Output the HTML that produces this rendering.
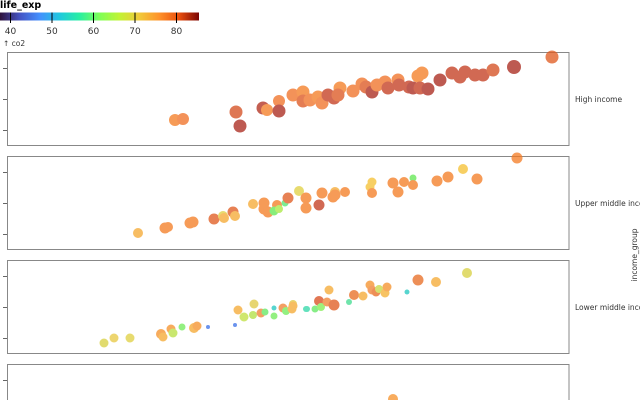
<!DOCTYPE html>
<html><head><meta charset="utf-8">
<style>
html,body{margin:0;padding:0;background:#fff;width:640px;height:400px;overflow:hidden;}
svg{display:block;}
text{font-family:"DejaVu Sans","Liberation Sans",sans-serif;}
</style></head>
<body>
<svg width="640" height="400" viewBox="0 0 640 400" xmlns="http://www.w3.org/2000/svg">
<defs>
<linearGradient id="turbo" x1="0" x2="1" y1="0" y2="0">
<stop offset="0" stop-color="#30123b"/>
<stop offset="0.1" stop-color="#4454c4"/>
<stop offset="0.2" stop-color="#4490fe"/>
<stop offset="0.3" stop-color="#1fc8de"/>
<stop offset="0.4" stop-color="#29efa2"/>
<stop offset="0.5" stop-color="#7dff56"/>
<stop offset="0.6" stop-color="#c1f334"/>
<stop offset="0.7" stop-color="#f1ca3a"/>
<stop offset="0.8" stop-color="#fe922a"/>
<stop offset="0.9" stop-color="#ea4f0d"/>
<stop offset="1" stop-color="#7a0403"/>
</linearGradient>
</defs>
<rect width="640" height="400" fill="#fff"/>
<!-- legend -->
<text x="0" y="8" font-size="9.5" font-weight="bold" fill="#000">life_exp</text>
<rect x="0" y="12.5" width="199" height="8" fill="url(#turbo)"/>
<g stroke="#000" stroke-width="1">
<line x1="10.5" y1="12.5" x2="10.5" y2="23"/>
<line x1="52" y1="12.5" x2="52" y2="23"/>
<line x1="93.5" y1="12.5" x2="93.5" y2="23"/>
<line x1="135" y1="12.5" x2="135" y2="23"/>
<line x1="176.5" y1="12.5" x2="176.5" y2="23"/>
</g>
<g font-size="9" fill="#333" text-anchor="middle">
<text x="10.5" y="34">40</text>
<text x="52" y="34">50</text>
<text x="93.5" y="34">60</text>
<text x="135" y="34">70</text>
<text x="176.5" y="34">80</text>
</g>
<text x="3" y="46" font-size="7.5" fill="#333">↑ co2</text>

<!-- panels -->
<g fill="none" stroke="#888" stroke-width="1">
<rect x="7.5" y="52.5" width="561.5" height="93"/>
<rect x="7.5" y="156.5" width="561.5" height="93"/>
<rect x="7.5" y="260.5" width="561.5" height="93"/>
<path d="M7.5 400 V364.5 H569 V400"/>
</g>
<g stroke="#666" stroke-width="1">
<line x1="3" y1="68.5" x2="7" y2="68.5"/><line x1="3" y1="99.5" x2="7" y2="99.5"/><line x1="3" y1="130.5" x2="7" y2="130.5"/>
<line x1="3" y1="172.5" x2="7" y2="172.5"/><line x1="3" y1="203.5" x2="7" y2="203.5"/><line x1="3" y1="234.5" x2="7" y2="234.5"/>
<line x1="3" y1="276.5" x2="7" y2="276.5"/><line x1="3" y1="307.5" x2="7" y2="307.5"/><line x1="3" y1="338.5" x2="7" y2="338.5"/>
<line x1="3" y1="380.5" x2="7" y2="380.5"/>
</g>
<g font-size="7.5" fill="#333">
<text x="575" y="102">High income</text>
<text x="575" y="206">Upper middle income</text>
<text x="575" y="310">Lower middle income</text>
</g>
<text transform="translate(637,255) rotate(-90)" font-size="7.5" fill="#333" text-anchor="middle">income_group</text>

<!-- panel 1 points -->
<g opacity="0.75">
<circle cx="175" cy="120" r="6" fill="#f47a20"/>
<circle cx="183" cy="119" r="6" fill="#f06e22"/>
<circle cx="236" cy="112" r="6.5" fill="#d34a1c"/>
<circle cx="240" cy="126" r="6.5" fill="#a82418"/>
<circle cx="263" cy="108" r="6.5" fill="#b02a18"/>
<circle cx="267" cy="110" r="6" fill="#f47a20"/>
<circle cx="279" cy="101" r="6" fill="#f06e22"/>
<circle cx="279" cy="111" r="6.5" fill="#a82418"/>
<circle cx="293" cy="95" r="6.5" fill="#f06e22"/>
<circle cx="303" cy="92" r="6.5" fill="#f47a20"/>
<circle cx="303" cy="101" r="6.5" fill="#dc521c"/>
<circle cx="310" cy="100" r="6.5" fill="#f06e22"/>
<circle cx="318" cy="97" r="6.5" fill="#f47a20"/>
<circle cx="322" cy="103" r="6.5" fill="#f06e22"/>
<circle cx="328" cy="95" r="6.5" fill="#c2381a"/>
<circle cx="334" cy="98" r="6.5" fill="#c2381a"/>
<circle cx="340" cy="88" r="6.5" fill="#f47a20"/>
<circle cx="338" cy="95" r="6.5" fill="#dc521c"/>
<circle cx="353" cy="91" r="6.5" fill="#f06e22"/>
<circle cx="362" cy="84" r="6.5" fill="#f06e22"/>
<circle cx="366" cy="87" r="6.5" fill="#dc521c"/>
<circle cx="372" cy="92" r="6.5" fill="#a82418"/>
<circle cx="377" cy="85" r="6.5" fill="#f06e22"/>
<circle cx="385" cy="82" r="6.5" fill="#f06e22"/>
<circle cx="388" cy="88" r="6.5" fill="#c2381a"/>
<circle cx="398" cy="80" r="6.5" fill="#f06e22"/>
<circle cx="399" cy="85" r="6.5" fill="#c2381a"/>
<circle cx="409" cy="87" r="6.5" fill="#c2381a"/>
<circle cx="413" cy="88" r="6.5" fill="#a82418"/>
<circle cx="418" cy="76" r="6.5" fill="#f47a20"/>
<circle cx="422" cy="73" r="6.5" fill="#f47a20"/>
<circle cx="420" cy="88" r="6.5" fill="#c2381a"/>
<circle cx="428" cy="89" r="6.5" fill="#a82418"/>
<circle cx="440" cy="80" r="6.5" fill="#a82418"/>
<circle cx="452" cy="73" r="6.5" fill="#c2381a"/>
<circle cx="460" cy="77" r="6.5" fill="#c2381a"/>
<circle cx="465" cy="72" r="6.5" fill="#c2381a"/>
<circle cx="475" cy="75" r="6.5" fill="#c2381a"/>
<circle cx="483" cy="75" r="6.5" fill="#c2381a"/>
<circle cx="493" cy="70" r="6.5" fill="#d34a1c"/>
<circle cx="514" cy="67" r="7" fill="#a82418"/>
<circle cx="552" cy="57" r="6.5" fill="#e0581c"/>
</g>

<!-- panel 2 points -->
<g opacity="0.75">
<circle cx="138" cy="233" r="5" fill="#f5a830"/>
<circle cx="165" cy="228" r="5.5" fill="#f47a20"/>
<circle cx="168" cy="227" r="5" fill="#f47a20"/>
<circle cx="190" cy="223" r="5.5" fill="#f47a20"/>
<circle cx="193" cy="222" r="5.5" fill="#f47a20"/>
<circle cx="214" cy="219" r="5.5" fill="#e0581c"/>
<circle cx="223" cy="216" r="5" fill="#e0d040"/>
<circle cx="224" cy="218" r="5" fill="#f5a830"/>
<circle cx="233" cy="212" r="5.5" fill="#e0581c"/>
<circle cx="235" cy="216" r="5" fill="#f5a830"/>
<circle cx="253" cy="204" r="5" fill="#f5a830"/>
<circle cx="264" cy="203" r="5.5" fill="#f47a20"/>
<circle cx="264" cy="209" r="5.5" fill="#f47a20"/>
<circle cx="268" cy="212" r="5.5" fill="#f47a20"/>
<circle cx="277" cy="205" r="5" fill="#f47a20"/>
<circle cx="274" cy="211" r="4.5" fill="#60e850"/>
<circle cx="279" cy="209" r="4" fill="#a8e840"/>
<circle cx="285" cy="203" r="3.5" fill="#50e870"/>
<circle cx="288" cy="198" r="5.5" fill="#e0581c"/>
<circle cx="299" cy="191" r="5" fill="#e0d040"/>
<circle cx="306" cy="198" r="5.5" fill="#f47a20"/>
<circle cx="306" cy="208" r="5.5" fill="#f47a20"/>
<circle cx="319" cy="205" r="5.5" fill="#c2381a"/>
<circle cx="322" cy="193" r="5.5" fill="#f47a20"/>
<circle cx="333" cy="197" r="5.5" fill="#f47a20"/>
<circle cx="335" cy="192" r="5" fill="#f5a830"/>
<circle cx="335" cy="195" r="5.5" fill="#f47a20"/>
<circle cx="345" cy="192" r="5" fill="#f47a20"/>
<circle cx="372" cy="182" r="4.5" fill="#f5c030"/>
<circle cx="370" cy="187" r="4.5" fill="#f5c030"/>
<circle cx="372" cy="193" r="5" fill="#f47a20"/>
<circle cx="393" cy="183" r="5.5" fill="#f47a20"/>
<circle cx="398" cy="192" r="5.5" fill="#f47a20"/>
<circle cx="404" cy="182" r="5" fill="#f47a20"/>
<circle cx="413" cy="178" r="3.5" fill="#60e850"/>
<circle cx="413" cy="185" r="5" fill="#f47a20"/>
<circle cx="437" cy="181" r="5.5" fill="#f47a20"/>
<circle cx="448" cy="177" r="5.5" fill="#f47a20"/>
<circle cx="463" cy="169" r="5" fill="#f5c030"/>
<circle cx="477" cy="179" r="5.5" fill="#f47a20"/>
<circle cx="517" cy="158" r="5.5" fill="#f47a20"/>
</g>

<!-- panel 3 points -->
<g opacity="0.75">
<circle cx="104" cy="343" r="4.5" fill="#d8d040"/>
<circle cx="114" cy="338" r="4.5" fill="#e8c840"/>
<circle cx="130" cy="338" r="4.5" fill="#e0d040"/>
<circle cx="161" cy="334" r="5" fill="#f59028"/>
<circle cx="163" cy="337" r="4.5" fill="#f5a830"/>
<circle cx="171" cy="329" r="4.5" fill="#f59028"/>
<circle cx="173" cy="333" r="4.5" fill="#b8e040"/>
<circle cx="182" cy="327" r="3.5" fill="#70ec58"/>
<circle cx="194" cy="328" r="5" fill="#f5a830"/>
<circle cx="197" cy="326" r="4.5" fill="#f59028"/>
<circle cx="208" cy="327" r="2" fill="#3a70e8"/>
<circle cx="235" cy="325" r="2" fill="#3a70e8"/>
<circle cx="238" cy="310" r="4.5" fill="#f5a830"/>
<circle cx="244" cy="317" r="4.5" fill="#c0e040"/>
<circle cx="254" cy="304" r="4.5" fill="#e0c840"/>
<circle cx="253" cy="315" r="4" fill="#b0e040"/>
<circle cx="261" cy="313" r="4.5" fill="#f08030"/>
<circle cx="265" cy="312" r="3.5" fill="#60e860"/>
<circle cx="274" cy="308" r="2.5" fill="#20c8c0"/>
<circle cx="274" cy="316" r="3.5" fill="#70ec58"/>
<circle cx="283" cy="308" r="4.5" fill="#f08030"/>
<circle cx="286" cy="311" r="4" fill="#70ec58"/>
<circle cx="292" cy="309" r="4.5" fill="#f5a830"/>
<circle cx="293" cy="304" r="4" fill="#e0c840"/>
<circle cx="307" cy="309" r="3" fill="#30d8a8"/>
<circle cx="293" cy="306" r="4.5" fill="#f5a830"/>
<circle cx="306" cy="309" r="3" fill="#30d8a8"/>
<circle cx="315" cy="309" r="3.5" fill="#60e860"/>
<circle cx="319" cy="301" r="5" fill="#d84a1c"/>
<circle cx="321" cy="307" r="4" fill="#80ec50"/>
<circle cx="327" cy="302" r="4.5" fill="#f08030"/>
<circle cx="329" cy="290" r="4.5" fill="#f5a830"/>
<circle cx="334" cy="305" r="5.5" fill="#e0581c"/>
<circle cx="349" cy="302" r="3" fill="#40dc90"/>
<circle cx="354" cy="295" r="5" fill="#e86a20"/>
<circle cx="363" cy="296" r="4.5" fill="#f5a830"/>
<circle cx="370" cy="285" r="4.5" fill="#f59028"/>
<circle cx="372" cy="290" r="4.5" fill="#f08030"/>
<circle cx="376" cy="292" r="4.5" fill="#e86a20"/>
<circle cx="379" cy="289" r="4" fill="#c8d840"/>
<circle cx="385" cy="293" r="4.5" fill="#f5b030"/>
<circle cx="387" cy="287" r="4.5" fill="#f59028"/>
<circle cx="407" cy="292" r="2.5" fill="#20c8c0"/>
<circle cx="418" cy="280" r="5.5" fill="#e86a20"/>
<circle cx="436" cy="282" r="5" fill="#f5a830"/>
<circle cx="467" cy="273" r="5" fill="#d8d040"/>
</g>

<!-- panel 4 -->
<g opacity="0.75">
<circle cx="393" cy="399" r="5" fill="#f59028"/>
</g>
</svg>
</body></html>
